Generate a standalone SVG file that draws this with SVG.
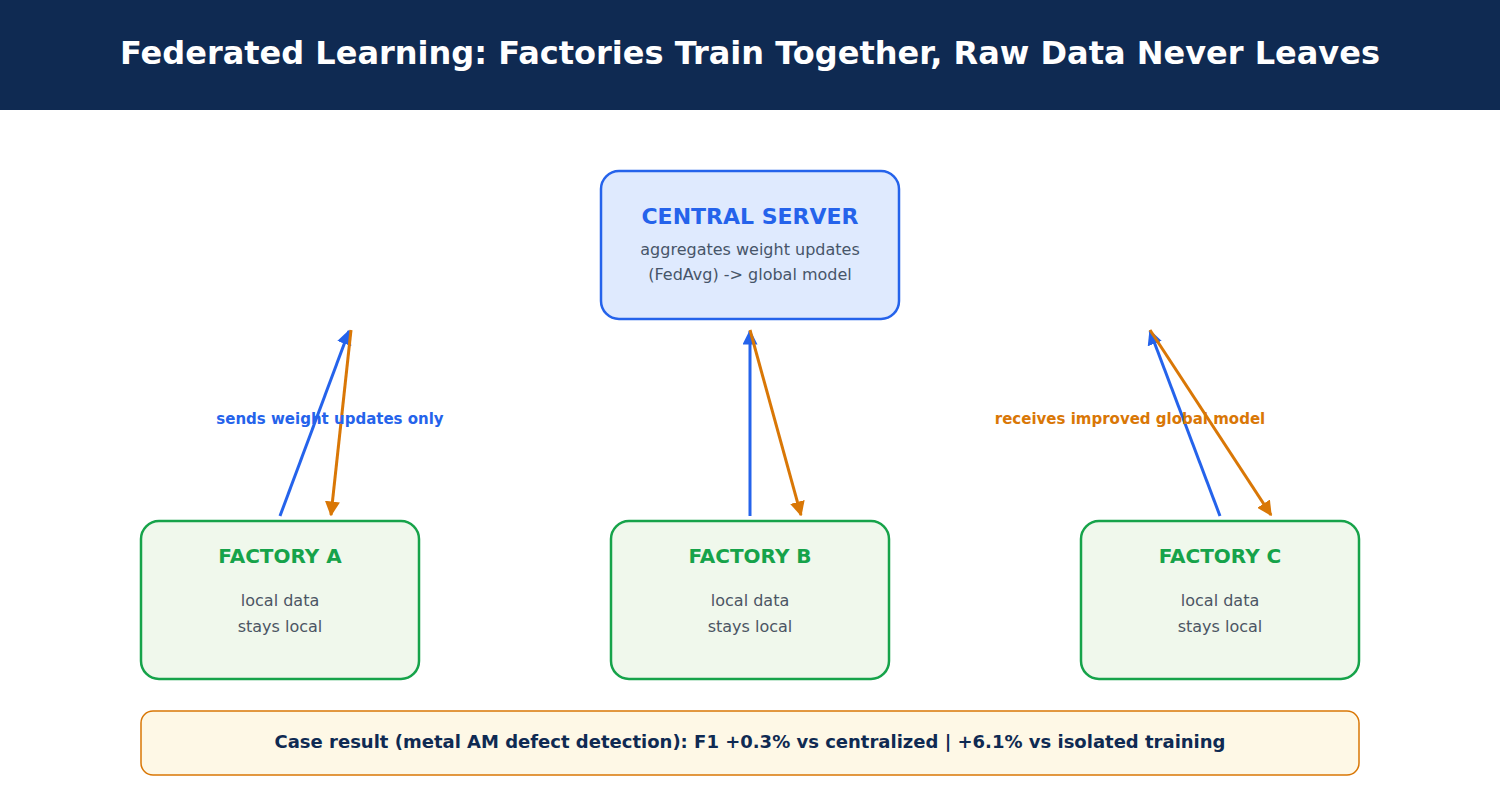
<svg xmlns="http://www.w3.org/2000/svg" width="1500" height="800" viewBox="0 0 1500 800">
<defs>
<marker id="ab" viewBox="0 0 10 10" refX="9" refY="5" markerWidth="5" markerHeight="5" orient="auto"><path d="M0,0 L10,5 L0,10 z" fill="#2563eb"/></marker>
<marker id="ao" viewBox="0 0 10 10" refX="9" refY="5" markerWidth="5" markerHeight="5" orient="auto"><path d="M0,0 L10,5 L0,10 z" fill="#d97706"/></marker>
</defs>
<style>
text{font-family:"DejaVu Sans","Liberation Sans",sans-serif;text-anchor:middle}
.f rect{fill:#f0f8ec;stroke:#16a34a;stroke-width:2.5}
.ft{font-size:20px;font-weight:bold;fill:#16a34a}
.fs{font-size:16px;fill:#4b5563}
.up{stroke:#2563eb;stroke-width:3;fill:none;marker-end:url(#ab)}
.dn{stroke:#d97706;stroke-width:3;fill:none;marker-end:url(#ao)}
</style>
<rect width="1500" height="800" fill="#fff"/>
<rect width="1500" height="110" fill="#0f2a52"/>
<text x="750" y="64" font-size="32" font-weight="bold" fill="#fff">Federated Learning: Factories Train Together, Raw Data Never Leaves</text>
<g id="server">
<rect x="601" y="171" width="298" height="148" rx="18" fill="#dfeafe" stroke="#2563eb" stroke-width="2.5"/>
<text x="750" y="224" font-size="22" font-weight="bold" fill="#2563eb">CENTRAL SERVER</text>
<text x="750" y="255" font-size="16" fill="#475569">aggregates weight updates</text>
<text x="750" y="280" font-size="16" fill="#475569">(FedAvg) -&gt; global model</text>
</g>
<g id="factoryA" class="f"><rect x="141" y="521" width="278" height="158" rx="18"/><text class="ft" x="280" y="563">FACTORY A</text><text class="fs" x="280" y="606">local data</text><text class="fs" x="280" y="632">stays local</text></g>
<g id="factoryB" class="f"><rect x="611" y="521" width="278" height="158" rx="18"/><text class="ft" x="750" y="563">FACTORY B</text><text class="fs" x="750" y="606">local data</text><text class="fs" x="750" y="632">stays local</text></g>
<g id="factoryC" class="f"><rect x="1081" y="521" width="278" height="158" rx="18"/><text class="ft" x="1220" y="563">FACTORY C</text><text class="fs" x="1220" y="606">local data</text><text class="fs" x="1220" y="632">stays local</text></g>
<g id="connectors">
<line class="up" x1="280" y1="516" x2="349" y2="331"/>
<line class="dn" x1="351" y1="330" x2="331" y2="515"/>
<line class="up" x1="750" y1="516" x2="750" y2="331"/>
<line class="dn" x1="750" y1="330" x2="801" y2="515"/>
<line class="up" x1="1220" y1="516" x2="1150" y2="331"/>
<line class="dn" x1="1150" y1="330" x2="1271" y2="515"/>
</g>
<text x="330" y="424" font-size="15" font-weight="bold" fill="#2563eb">sends weight updates only</text>
<text x="1130" y="424" font-size="15" font-weight="bold" fill="#d97706">receives improved global model</text>
<g id="result">
<rect x="141" y="711" width="1218" height="64" rx="12" fill="#fef8e6" stroke="#d97706" stroke-width="1.5"/>
<text x="750" y="748" font-size="18" font-weight="bold" fill="#0f2a52">Case result (metal AM defect detection): F1 +0.3% vs centralized  |  +6.1% vs isolated training</text>
</g>
</svg>
